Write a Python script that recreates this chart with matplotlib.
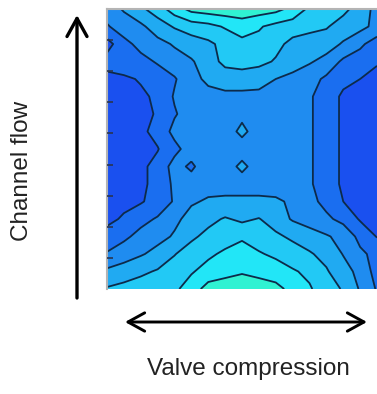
import numpy as np
import matplotlib
matplotlib.use("Agg")
import matplotlib.pyplot as plt
from matplotlib.patches import FancyArrowPatch

plt.rcParams['font.family'] = ['Liberation Sans', 'DejaVu Sans']

# grid (17 x 17, row 0 = top edge)
valve_pos = np.linspace(0, 1, 17)
flow_pos = np.linspace(1, 0, 17)
response = [
    [2.0, 2.6, 3.3, 4.0, 5.0, 5.8, 6.0, 6.1, 6.1, 6.0, 5.8, 5.2, 4.3, 4.0, 3.8, 3.0, 2.2],
    [1.4, 2.0, 2.3, 3.0, 3.6, 4.0, 4.2, 4.6, 5.0, 4.6, 4.2, 4.0, 3.8, 3.6, 3.0, 2.8, 2.2],
    [0.1, 1.2, 1.8, 2.2, 2.6, 3.0, 3.3, 3.8, 4.2, 4.2, 3.8, 3.2, 3.0, 2.9, 2.4, 1.7, 1.0],
    [0.9, 1.2, 1.2, 1.6, 2.1, 2.4, 3.0, 3.8, 4.0, 3.8, 3.4, 3.0, 2.6, 2.2, 1.3, 1.0, 0.6],
    [0.2, 0.3, 0.6, 1.0, 1.4, 2.2, 2.7, 2.9, 2.9, 2.8, 2.5, 2.2, 1.9, 1.3, 0.8, 0.5, 0.2],
    [0.1, 0.1, 0.3, 0.7, 1.6, 2.0, 2.2, 2.3, 2.3, 2.3, 2.2, 2.0, 1.6, 1.1, 0.3, 0.1, 0.1],
    [0.1, 0.1, 0.2, 0.6, 1.4, 2.0, 2.2, 2.3, 2.4, 2.3, 2.2, 2.0, 1.6, 1.1, 0.3, 0.1, 0.1],
    [0.1, 0.1, 0.3, 0.8, 1.8, 2.0, 2.2, 2.3, 2.6, 2.3, 2.2, 2.0, 1.6, 1.1, 0.3, 0.1, 0.1],
    [0.1, 0.1, 0.2, 0.45, 1.2, 2.0, 2.2, 2.3, 2.3, 2.3, 2.2, 2.0, 1.6, 1.1, 0.3, 0.1, 0.1],
    [0.1, 0.1, 0.3, 0.8, 1.9, 1.3, 2.2, 2.3, 2.6, 2.3, 2.2, 2.0, 1.6, 1.1, 0.3, 0.1, 0.1],
    [0.1, 0.1, 0.3, 0.8, 1.7, 2.0, 2.2, 2.3, 2.3, 2.3, 2.2, 2.0, 1.6, 1.1, 0.3, 0.1, 0.1],
    [0.2, 0.3, 0.4, 0.9, 1.6, 2.4, 2.6, 2.6, 2.6, 2.6, 2.6, 2.4, 1.8, 1.2, 0.5, 0.2, 0.1],
    [0.3, 0.6, 1.2, 1.6, 2.3, 2.8, 3.2, 3.6, 3.3, 3.55, 3.0, 2.4, 2.0, 1.7, 1.2, 0.4, 0.2],
    [0.8, 1.3, 1.8, 2.2, 2.6, 3.3, 3.8, 4.0, 4.3, 4.0, 3.7, 3.3, 3.0, 2.6, 2.2, 1.2, 0.45],
    [1.6, 2.0, 2.4, 2.8, 3.45, 4.0, 4.3, 4.7, 5.1, 4.6, 4.3, 4.0, 3.6, 3.2, 2.45, 1.7, 1.2],
    [2.7, 3.0, 3.3, 3.6, 4.0, 4.4, 4.9, 5.2, 5.4, 5.2, 5.0, 4.6, 4.3, 3.6, 2.9, 2.2, 1.1],
    [3.6, 3.8, 4.0, 4.2, 4.3, 5.0, 5.9, 6.0, 6.1, 6.0, 5.8, 5.2, 4.6, 4.0, 3.4, 2.4, 1.4],
]
levels = [-0.5, 0.5, 1.5, 2.5, 3.5, 4.5, 5.5, 6.5]
band_colors = ['#1a50ef', '#1a6ef0', '#1f8cf0', '#20aaf2', '#22c9f5', '#22e6f7', '#30f2d2']

W, H = 377, 394
fig = plt.figure(figsize=(W / 100, H / 100), dpi=100)
ax = fig.add_axes([107 / W, 1 - 289 / H, 270 / W, 280 / H])

Z = np.array(response)
ax.contourf(valve_pos, flow_pos, Z, levels=levels, colors=band_colors)
ax.contour(valve_pos, flow_pos, Z, levels=levels[1:-1], colors='#0d2a4a', linewidths=1.3)
ax.set_xlim(0, 1)
ax.set_ylim(0, 1)
ax.set_axisbelow(False)

ax.set_xticks([])
ax.set_yticks(np.arange(1, 9) / 9)
ax.set_yticklabels([])
ax.tick_params(axis='y', direction='in', length=4, width=1.2, color='#2a3550')
for side in ['right', 'bottom']:
    ax.spines[side].set_visible(False)
for side in ['left', 'top']:
    ax.spines[side].set_color('#b4b4b4')
    ax.spines[side].set_linewidth(1.5)


def fpt(x, y):
    return (x / W, 1 - y / H)


up = FancyArrowPatch(fpt(77, 298), fpt(77, 15), transform=fig.transFigure,
                     arrowstyle='->,head_length=0.65,head_width=0.36',
                     mutation_scale=20, lw=2.4, color='black',
                     shrinkA=0, shrinkB=0)
fig.add_artist(up)
both = FancyArrowPatch(fpt(125, 322), fpt(367, 322), transform=fig.transFigure,
                       arrowstyle='<->,head_length=0.6,head_width=0.33',
                       mutation_scale=20, lw=2.1, color='black',
                       shrinkA=0, shrinkB=0)
fig.add_artist(both)

fig.text(22 / W, 1 - 171 / H, 'Channel flow', rotation=90, ha='center', va='center',
         fontsize=17.5, color='#222222')
fig.text(248 / W, 1 - 369 / H, 'Valve compression', ha='center', va='center',
         fontsize=17.5, color='#222222')

fig.savefig('out.png', dpi=100)
